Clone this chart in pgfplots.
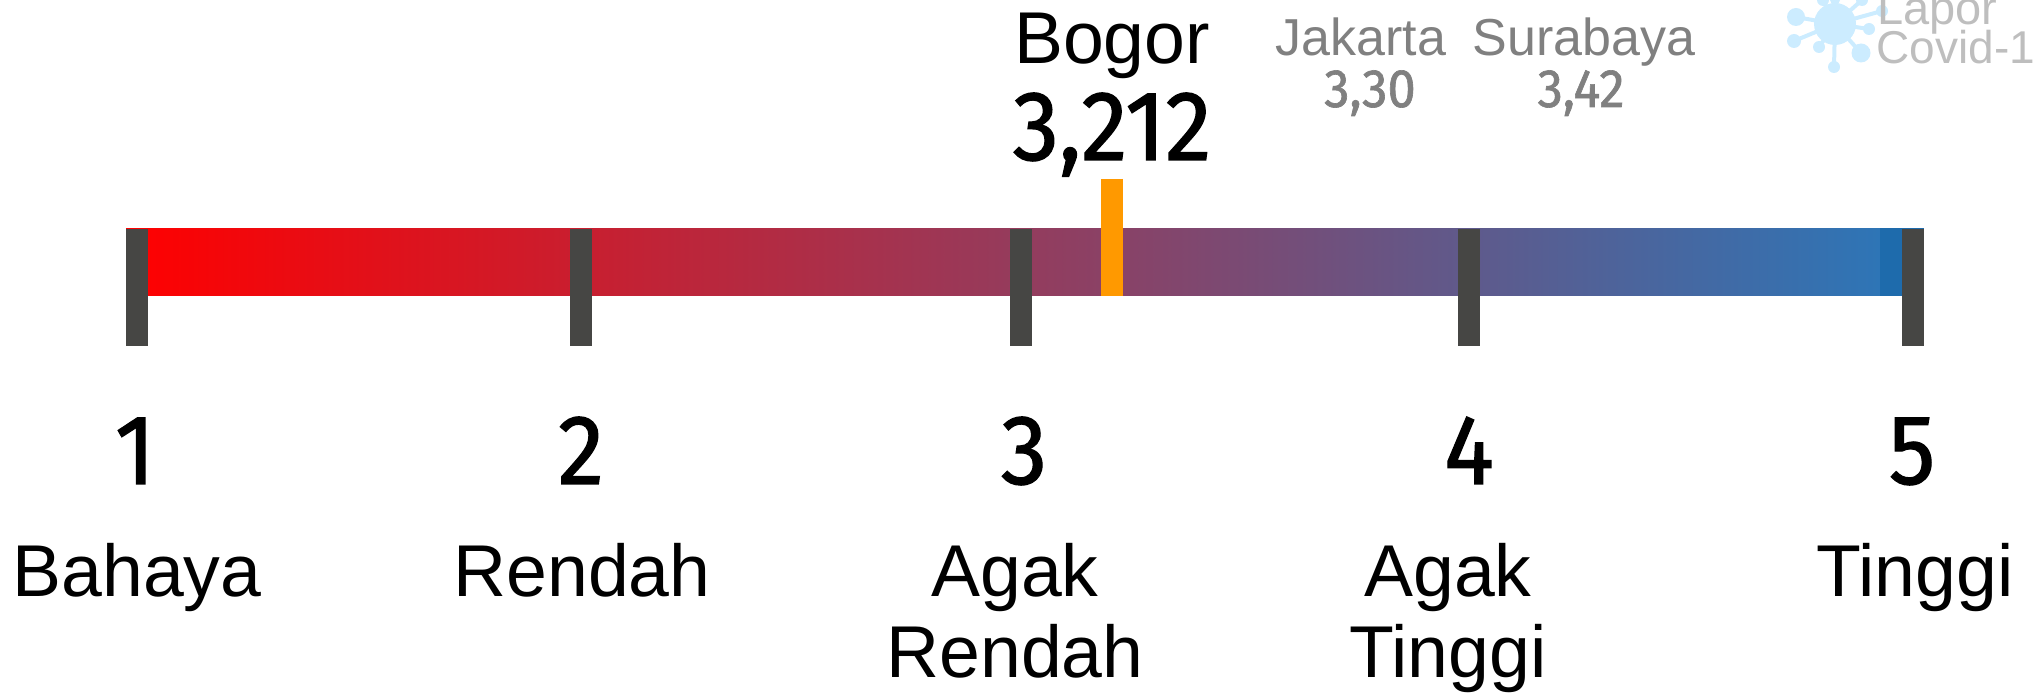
\documentclass[border=0pt]{standalone}
\usepackage{pgfplots}
\pgfplotsset{compat=1.18}
\usepackage{fontspec}
\setmainfont{Liberation Sans}
\newfontfamily\din[FakeStretch=0.94,FakeBold=1.2]{Fira Sans}
\definecolor{tickc}{RGB}{70,70,68}
\definecolor{markc}{RGB}{255,153,0}
\definecolor{virus}{RGB}{204,236,255}
\definecolor{endblue}{RGB}{30,107,172}
\definecolor{midgray}{RGB}{128,128,128}
\definecolor{logogray}{RGB}{190,190,190}
\newcommand{\lab}[4]{\node[anchor=base,inner sep=0pt,font=#3] at (#1,#2) {#4};}
\newcommand{\labg}[4]{\node[anchor=base,inner sep=0pt,text=midgray,font=#3] at (#1,#2) {#4};}
\begin{document}
\begin{tikzpicture}[x=0.5pt,y=-0.5pt]
\useasboundingbox (0,0) rectangle (2033,694);
\begin{axis}[at={(0,0)},anchor=north west,scale only axis,width=1016.5pt,height=347pt,
  axis lines=none,clip=false,y dir=reverse,
  xmin=0.69144,xmax=5.27027,ymin=0,ymax=694,
  colormap={score}{rgb255(0)=(255,0,0); rgb255(1)=(46,117,182)},
  point meta min=1.05,point meta max=4.926]
\addplot[patch,patch type=rectangle,shader=interp,point meta=x] coordinates
  {(0.9752,228) (4.926,228) (4.926,295.3) (0.9752,295.3)};
\addplot[fill=endblue,draw=none] coordinates
  {(4.926,228) (5.0248,228) (5.0248,296) (4.926,296)} --cycle;
\addplot[tickc,line width=11pt] coordinates {(1,229) (1,346)};
\addplot[tickc,line width=11pt] coordinates {(2,229) (2,346)};
\addplot[tickc,line width=11pt] coordinates {(2.991,229) (2.991,346)};
\addplot[tickc,line width=11pt] coordinates {(4,229) (4,346)};
\addplot[tickc,line width=11pt] coordinates {(5,229) (5,346)};
\addplot[markc,line width=11pt] coordinates {(3.196,179) (3.196,296)};
\end{axis}
% logo
\begin{scope}[virus]
\foreach \a/\b/\r in {1796/17/9,1794/41/7,1819/47/6,1834/67/6,1861/53/9.5,1869/29/6,1882/11/6,1862/0/6,1823/0/6,1835/0/5}{
  \draw[line width=2pt] (1835,24) -- (\a,\b);
  \fill (\a,\b) circle [radius=\r];
}
\fill (1835,24) circle [radius=21];
\end{scope}
\node[anchor=base west,inner sep=0pt,font=\fontsize{23.5pt}{28pt}\selectfont,text=logogray] at (1877,25) {Lapor};
\node[anchor=base west,inner sep=0pt,font=\fontsize{23pt}{28pt}\selectfont,text=logogray] at (1876,64) {Covid-19};
% marker texts
\lab{1112}{64}{\fontsize{36.7pt}{40pt}\selectfont}{Bogor}
\lab{1112}{160}{\din\fontsize{49.5pt}{54pt}\selectfont}{3,212}
\labg{1361}{56}{\fontsize{26pt}{30pt}\selectfont}{Jakarta}
\labg{1584}{56}{\fontsize{26pt}{30pt}\selectfont}{Surabaya}
\labg{1370}{107}{\din\fontsize{27pt}{30pt}\selectfont}{3,30}
\labg{1581}{107}{\din\fontsize{27pt}{30pt}\selectfont}{3,42}
% scale numbers
\lab{135}{484}{\din\fontsize{49.5pt}{54pt}\selectfont}{1}
\lab{581}{484}{\din\fontsize{49.5pt}{54pt}\selectfont}{2}
\lab{1024}{484}{\din\fontsize{49.5pt}{54pt}\selectfont}{3}
\lab{1469}{484}{\din\fontsize{49.5pt}{54pt}\selectfont}{4}
\lab{1912}{484}{\din\fontsize{49.5pt}{54pt}\selectfont}{5}
% scale names
\lab{137}{596}{\fontsize{36.7pt}{40pt}\selectfont}{Bahaya}
\lab{582}{596}{\fontsize{36.7pt}{40pt}\selectfont}{Rendah}
\lab{1015}{596}{\fontsize{36.7pt}{40pt}\selectfont}{Agak}
\lab{1015}{677}{\fontsize{36.7pt}{40pt}\selectfont}{Rendah}
\lab{1448}{596}{\fontsize{36.7pt}{40pt}\selectfont}{Agak}
\lab{1448}{677}{\fontsize{36.7pt}{40pt}\selectfont}{Tinggi}
\lab{1915}{596}{\fontsize{36.7pt}{40pt}\selectfont}{Tinggi}
\end{tikzpicture}
\end{document}
